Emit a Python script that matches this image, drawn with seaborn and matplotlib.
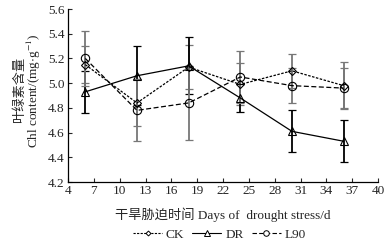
import numpy as np
import pandas as pd
import matplotlib
matplotlib.use("Agg")
import matplotlib.pyplot as plt
import seaborn as sns
from matplotlib.lines import Line2D

days = [6, 12, 18, 24, 30, 36]
ck = [5.15, 4.84, 5.13, 4.99, 5.10, 4.98]
ck_err = [0.15, 0.19, 0.18, 0.17, 0.14, 0.19]
dr = [4.93, 5.06, 5.14, 4.88, 4.61, 4.53]
dr_err = [0.17, 0.24, 0.23, 0.11, 0.17, 0.17]
l90 = [5.20, 4.78, 4.84, 5.05, 4.98, 4.96]
l90_err = [0.22, 0.25, 0.30, 0.21, 0.14, 0.16]
xticks = [4, 7, 10, 13, 16, 19, 22, 25, 28, 31, 34, 37, 40]
yticks = [4.2, 4.4, 4.6, 4.8, 5.0, 5.2, 5.4, 5.6]

sns.set_style("ticks")
plt.rcParams['font.family'] = ['Liberation Serif', 'Noto Sans CJK SC']
plt.rcParams['mathtext.fontset'] = 'stix'

fs = 9.5
fig = plt.figure(figsize=(3.89, 2.44), dpi=100)
ax = fig.add_axes([0.175, 0.254, 0.797, 0.709])

series = [
    ("CK", ck, ck_err, "D", (0, (2, 1.2)), "#777777", 4.5),
    ("DR", dr, dr_err, "^", "-", "black", 6),
    ("L90", l90, l90_err, "o", (0, (4, 2)), "#777777", 6),
]
handles = []
for name, vals, errs, mk, ls, ecol, ms in series:
    ax.errorbar(days, vals, yerr=errs, fmt="none", ecolor=ecol, elinewidth=1.3,
                capsize=3, capthick=0.9, zorder=2)
for name, vals, errs, mk, ls, ecol, ms in series:
    df = pd.DataFrame({"day": days, "val": vals})
    sns.lineplot(data=df, x="day", y="val", ax=ax, color="black", linewidth=0.9,
                 linestyle=ls, marker=mk, markersize=ms, markerfacecolor="none",
                 markeredgecolor="black", markeredgewidth=0.8, zorder=3)
    handles.append(Line2D([0], [0], color="black", linewidth=0.8, linestyle=ls,
                          marker=mk, markersize=ms - 2, markerfacecolor="white",
                          markeredgecolor="black", markeredgewidth=0.7, label=name))

ax.set_xlim(4, 40)
ax.set_ylim(4.2, 5.6)
ax.set_xticks(xticks)
ax.set_yticks(yticks)
ax.set_yticklabels([f"{v:.1f}" for v in yticks])
ax.tick_params(direction="in", length=3, width=0.8, labelsize=fs, pad=2.5)
for s in ["top", "right"]:
    ax.spines[s].set_visible(False)
for s in ["left", "bottom"]:
    ax.spines[s].set_linewidth(0.9)
    ax.spines[s].set_color("black")

ax.set_xlabel("干旱胁迫时间 Days of  drought stress/d", fontsize=fs, labelpad=7)
ax.set_ylabel("")
fig.text(0.051, 0.63, "叶绿素含量", rotation=90, ha="center", va="center", fontsize=fs)
fig.text(0.088, 0.63, "Chl content/(mg$\\cdot$g$^{-1}$)", rotation=90, ha="center",
         va="center", fontsize=fs)

fig.legend(handles=handles, loc="center", bbox_to_anchor=(0.564, 0.037), ncol=3,
           frameon=False, fontsize=fs, handlelength=2.2, handletextpad=0.3,
           columnspacing=0.6, borderaxespad=0)

fig.savefig("out.png", dpi=100)
